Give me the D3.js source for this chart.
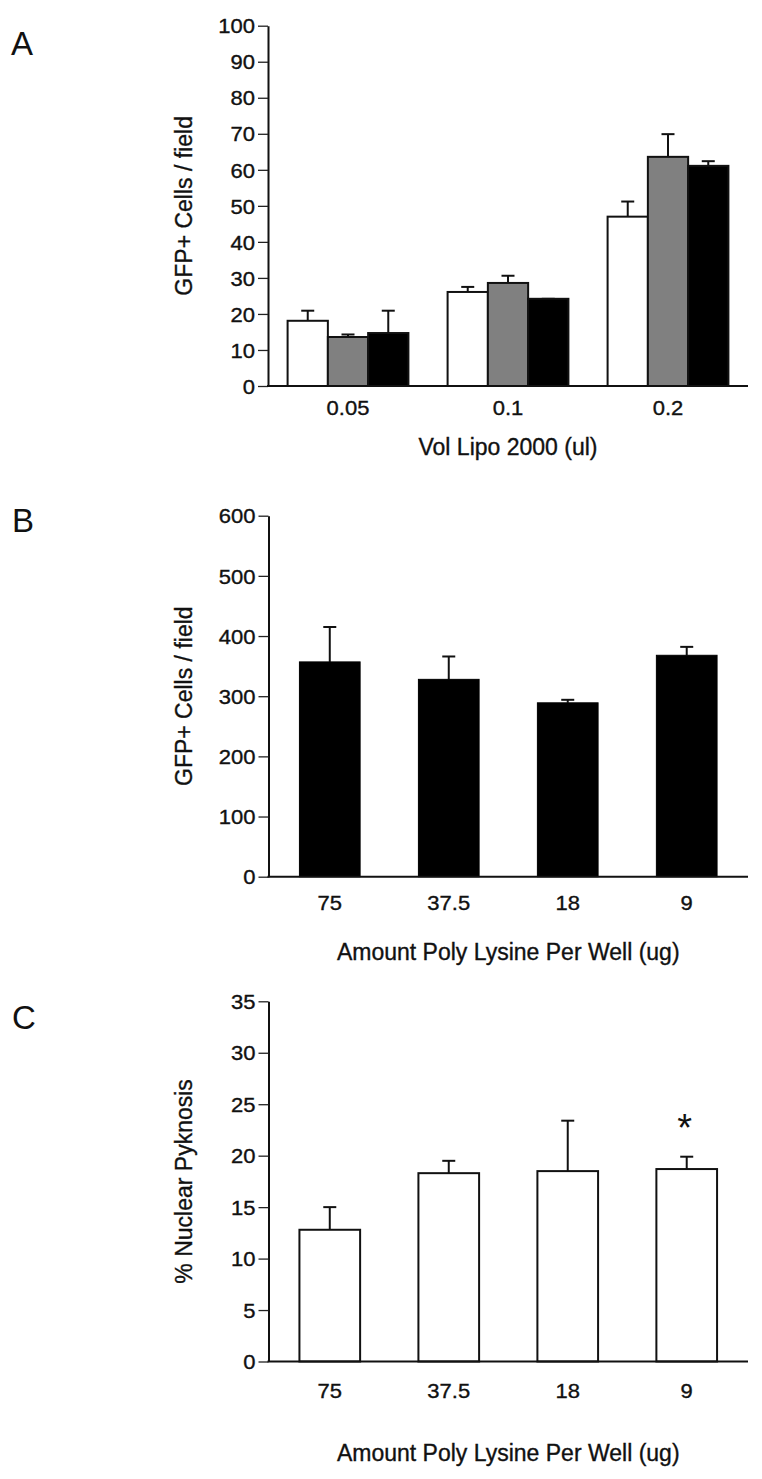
<!DOCTYPE html>
<html>
<head>
<meta charset="utf-8">
<script src="https://cdn.jsdelivr.net/npm/d3@7"></script>
<style>
  html, body { margin: 0; padding: 0; background: #fff; }
  svg { display: block; }
  text { font-family: "Liberation Sans", Arial, Helvetica, sans-serif; fill: #111; }
</style>
</head>
<body>
<svg id="chart" width="762" height="1479"></svg>
<script>
// ---------------- DATA ----------------
// Panel A
const aCategories = ["0.05", "0.1", "0.2"];
const aSeries = ["white", "gray", "black"];
const aWhite = [18.1, 26.1, 47.0];
const aWhiteErr = [20.9, 27.5, 51.2];
const aGray = [13.6, 28.6, 63.6];
const aGrayErr = [14.3, 30.6, 69.9];
const aBlack = [14.7, 24.2, 61.1];
const aBlackErr = [20.9, 24.2, 62.4];
const aYTicks = [0, 10, 20, 30, 40, 50, 60, 70, 80, 90, 100];
const aYLabel = "GFP+ Cells / field";
const aXLabel = "Vol Lipo 2000 (ul)";

// Panel B
const bCategories = ["75", "37.5", "18", "9"];
const bValues = [357, 328, 289, 368];
const bErr = [415, 366, 294, 382];
const bYTicks = [0, 100, 200, 300, 400, 500, 600];
const bYLabel = "GFP+ Cells / field";
const bXLabel = "Amount Poly Lysine Per Well (ug)";

// Panel C
const cCategories = ["75", "37.5", "18", "9"];
const cValues = [12.8, 18.3, 18.5, 18.7];
const cErr = [15.0, 19.5, 23.4, 19.9];
const cYTicks = [0, 5, 10, 15, 20, 25, 30, 35];
const cYLabel = "% Nuclear Pyknosis";
const cXLabel = "Amount Poly Lysine Per Well (ug)";
const cMarks = ["", "", "", "*"];

// ---------------- STYLE ----------------
const seriesFill = { white: "#ffffff", gray: "#808080", black: "#000000" };
const TICK_FONT = 20, TITLE_FONT = 23, STRETCH = 1.1;

const svg = d3.select("#chart");

function stretchText(sel, k) {
  sel.each(function () {
    const len = this.getComputedTextLength();
    if (len > 0) {
      d3.select(this).attr("textLength", len * k).attr("lengthAdjust", "spacingAndGlyphs");
    }
  });
}

function darken(sel) {
  sel.attr("stroke", "#111").attr("stroke-width", 0.35);
}

function drawFrame(cfg) {
  const g = svg.append("g");
  const y = d3.scaleLinear().domain([0, cfg.yMax]).range([cfg.y0, cfg.y1]);
  // y axis
  const yAxis = g.append("g")
    .attr("transform", `translate(${cfg.x0},0)`)
    .call(d3.axisLeft(y).tickValues(cfg.ticks).tickSize(10).tickSizeOuter(0).tickPadding(3));
  yAxis.select(".domain").attr("stroke", "#111").attr("stroke-width", 2);
  yAxis.selectAll(".tick line").attr("stroke", "#222").attr("stroke-width", 1.3);
  const yt = yAxis.selectAll(".tick text")
    .attr("font-size", TICK_FONT).attr("font-family", "Liberation Sans, Arial, sans-serif")
    .attr("fill", "#111").attr("dy", "0.36em");
  darken(yt);
  stretchText(yt, STRETCH);
  // y title
  darken(g.append("text")
    .attr("transform", `translate(${cfg.yTitleX},${(cfg.y0 + cfg.y1) / 2}) rotate(-90)`)
    .attr("text-anchor", "middle")
    .attr("font-size", TITLE_FONT)
    .text(cfg.yLabel));
  // x title
  darken(g.append("text")
    .attr("x", (cfg.x0 + cfg.x1) / 2)
    .attr("y", cfg.xTitleY)
    .attr("text-anchor", "middle")
    .attr("font-size", TITLE_FONT)
    .text(cfg.xLabel));
  // panel letter
  g.append("text")
    .attr("x", cfg.letterX).attr("y", cfg.letterY)
    .attr("font-family", "'Open Sans', 'Noto Sans', sans-serif")
    .attr("font-size", 33)
    .attr("fill", "#222")
    .text(cfg.letter);
  return { g, y };
}

function drawXAxis(g, x, y, cfg) {
  const xa = g.append("g")
    .attr("transform", `translate(0,${cfg.y0})`)
    .call(d3.axisBottom(x).tickSize(0).tickPadding(cfg.xTickPad));
  xa.select(".domain").remove();
  const xt = xa.selectAll(".tick text")
    .attr("font-size", TICK_FONT).attr("font-family", "Liberation Sans, Arial, sans-serif")
    .attr("fill", "#111");
  darken(xt);
  stretchText(xt, STRETCH);
  g.append("line")
    .attr("x1", cfg.x0 - 1).attr("x2", cfg.x1)
    .attr("y1", y(0)).attr("y2", y(0))
    .attr("stroke", "#111").attr("stroke-width", 2);
}

function drawErr(g, cx, yTop, yBar) {
  const half = 6.5;
  g.append("line").attr("x1", cx).attr("x2", cx).attr("y1", yBar).attr("y2", yTop)
    .attr("stroke", "#111").attr("stroke-width", 2);
  g.append("line").attr("x1", cx - half).attr("x2", cx + half).attr("y1", yTop).attr("y2", yTop)
    .attr("stroke", "#111").attr("stroke-width", 2);
}

// ---------------- PANEL A ----------------
(function () {
  const cfg = { x0: 268, x1: 748, y0: 386, y1: 25.7, yMax: 100, ticks: aYTicks,
    yLabel: aYLabel, xLabel: aXLabel, yTitleX: 192, xTitleY: 455,
    letter: "A", letterX: 11, letterY: 55, xTickPad: 15 };
  const { g, y } = drawFrame(cfg);
  const x0 = d3.scaleBand().domain(aCategories).range([cfg.x0, cfg.x1])
    .paddingInner(0.245).paddingOuter(0.1225);
  const x1 = d3.scaleBand().domain(aSeries).range([0, x0.bandwidth()]);
  const vals = { white: aWhite, gray: aGray, black: aBlack };
  const errs = { white: aWhiteErr, gray: aGrayErr, black: aBlackErr };
  const rows = [];
  aCategories.forEach((c, i) => aSeries.forEach(s => rows.push({ c, s, v: vals[s][i], e: errs[s][i] })));
  rows.forEach(r => {
    const cx = x0(r.c) + x1(r.s) + x1.bandwidth() / 2;
    drawErr(g, cx, y(r.e), y(r.v));
  });
  g.selectAll("rect.barA").data(rows).join("rect")
    .attr("class", "barA")
    .attr("x", d => x0(d.c) + x1(d.s))
    .attr("y", d => y(d.v))
    .attr("width", x1.bandwidth())
    .attr("height", d => y(0) - y(d.v))
    .attr("fill", d => seriesFill[d.s])
    .attr("stroke", "#111").attr("stroke-width", 2);
  drawXAxis(g, x0, y, cfg);
})();

// ---------------- PANEL B ----------------
(function () {
  const cfg = { x0: 268.5, x1: 748, y0: 876.7, y1: 515.7, yMax: 600, ticks: bYTicks,
    yLabel: bYLabel, xLabel: bXLabel, yTitleX: 192, xTitleY: 960,
    letter: "B", letterX: 12, letterY: 532, xTickPad: 19 };
  const { g, y } = drawFrame(cfg);
  const x = d3.scaleBand().domain(bCategories).range([cfg.x0, cfg.x1])
    .paddingInner(0.49).paddingOuter(0.26);
  bCategories.forEach((c, i) => drawErr(g, x(c) + x.bandwidth() / 2, y(bErr[i]), y(bValues[i])));
  g.selectAll("rect.barB").data(bCategories).join("rect")
    .attr("class", "barB")
    .attr("x", d => x(d))
    .attr("y", (d, i) => y(bValues[i]))
    .attr("width", x.bandwidth())
    .attr("height", (d, i) => y(0) - y(bValues[i]))
    .attr("fill", "#000").attr("stroke", "#000").attr("stroke-width", 1);
  drawXAxis(g, x, y, cfg);
})();

// ---------------- PANEL C ----------------
(function () {
  const cfg = { x0: 268.5, x1: 748, y0: 1361.5, y1: 1001.3, yMax: 35, ticks: cYTicks,
    yLabel: cYLabel, xLabel: cXLabel, yTitleX: 192, xTitleY: 1461,
    letter: "C", letterX: 12, letterY: 1029, xTickPad: 22 };
  const { g, y } = drawFrame(cfg);
  const x = d3.scaleBand().domain(cCategories).range([cfg.x0, cfg.x1])
    .paddingInner(0.49).paddingOuter(0.26);
  cCategories.forEach((c, i) => drawErr(g, x(c) + x.bandwidth() / 2, y(cErr[i]), y(cValues[i])));
  g.selectAll("rect.barC").data(cCategories).join("rect")
    .attr("class", "barC")
    .attr("x", d => x(d))
    .attr("y", (d, i) => y(cValues[i]))
    .attr("width", x.bandwidth())
    .attr("height", (d, i) => y(0) - y(cValues[i]))
    .attr("fill", "#fff").attr("stroke", "#111").attr("stroke-width", 2);
  g.selectAll("text.mark").data(cCategories).join("text")
    .attr("class", "mark")
    .attr("x", d => x(d) + x.bandwidth() / 2 - 2)
    .attr("y", (d, i) => y(cErr[i]) - 16)
    .attr("text-anchor", "middle")
    .attr("font-family", "'DejaVu Sans', sans-serif")
    .attr("font-size", 38)
    .attr("fill", "#222")
    .text((d, i) => cMarks[i]);
  drawXAxis(g, x, y, cfg);
})();
</script>
</body>
</html>
